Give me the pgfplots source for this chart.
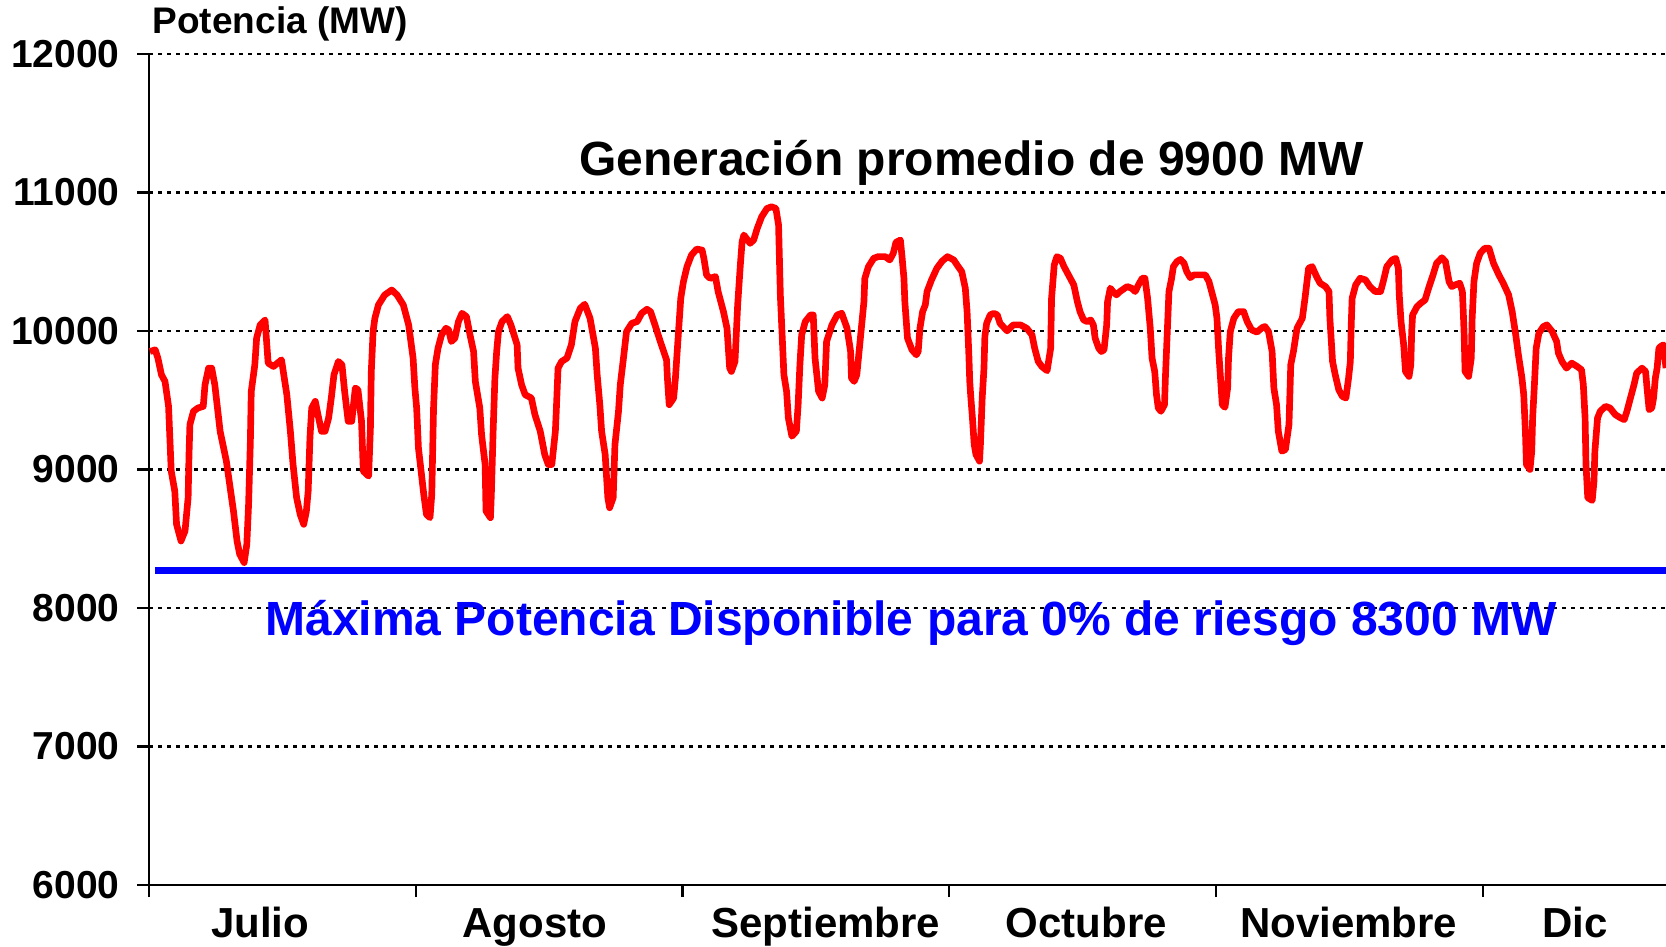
\documentclass[border=0pt]{standalone}
\usepackage{fontspec}
\setmainfont{Liberation Sans}
\usepackage{pgfplots}
\usepackage{pgfplotstable}
\pgfplotsset{compat=1.18}

% daily generation, x = day index from 1 July (30 per tick)
\pgfplotstableread{
x v
0.1 9852
0.7 9864
1.0 9804
1.4 9684
1.8 9636
2.2 9456
2.5 8988
2.9 8844
3.1 8604
3.6 8484
4.05 8556
4.4 8796
4.5 9108
4.6 9324
5.0 9420
5.5 9444
6.1 9456
6.3 9612
6.7 9732
7.05 9732
7.4 9612
8.0 9276
8.7 9060
9.5 8700
9.9 8484
10.2 8388
10.7 8328
11.0 8460
11.2 8748
11.4 9204
11.5 9564
11.9 9756
12.1 9948
12.5 10044
13.05 10080
13.4 9768
14.0 9744
14.9 9792
15.5 9540
15.9 9276
16.2 9036
16.6 8796
17.0 8676
17.4 8604
17.7 8700
17.9 8844
18.1 9228
18.3 9444
18.7 9492
19.0 9396
19.4 9276
19.8 9276
20.2 9372
20.5 9516
20.8 9684
21.3 9780
21.7 9756
22.0 9564
22.4 9348
22.8 9348
23.2 9588
23.5 9576
23.9 9348
24.1 8988
24.7 8952
24.9 9300
25.0 9708
25.2 9996
25.4 10092
25.8 10188
26.5 10260
27.3 10296
27.9 10260
28.6 10188
29.2 10044
29.7 9804
29.9 9588
30.1 9444
30.3 9156
30.9 8820
31.2 8676
31.6 8652
31.8 8820
32.0 9444
32.2 9756
32.5 9876
32.9 9972
33.4 10020
33.7 10008
34.0 9924
34.4 9948
34.8 10068
35.2 10128
35.7 10104
36.1 9972
36.5 9852
36.7 9636
37.2 9444
37.4 9252
37.8 9036
37.9 8700
38.4 8652
38.5 8820
38.7 9276
38.9 9660
39.1 9852
39.3 9996
39.7 10068
40.3 10104
40.7 10044
41.4 9900
41.5 9732
41.9 9612
42.3 9540
43.0 9516
43.4 9396
44.0 9276
44.5 9108
44.9 9036
45.3 9036
45.7 9276
45.8 9420
46.0 9732
46.4 9780
47.0 9804
47.5 9900
47.9 10068
48.5 10164
49.0 10193
49.6 10092
50.2 9876
50.4 9684
50.7 9468
50.9 9276
51.3 9108
51.6 8796
51.8 8724
52.2 8796
52.4 9180
52.8 9420
53.0 9612
53.4 9828
53.7 9996
54.3 10056
54.9 10068
55.4 10128
56.0 10157
56.4 10140
56.9 10044
57.5 9924
58.2 9792
58.3 9660
58.5 9468
59.0 9516
59.2 9660
59.4 9852
59.6 10044
59.8 10236
60.1 10356
60.5 10464
61.0 10548
61.6 10592
62.2 10584
62.4 10525
62.7 10405
63.1 10380
63.7 10393
64.0 10285
64.6 10140
65.0 10020
65.3 9732
65.5 9708
65.9 9780
66.2 10188
66.5 10477
66.7 10645
66.9 10693
67.6 10633
68.0 10657
68.4 10741
68.9 10825
69.5 10885
70.0 10897
70.5 10885
70.8 10765
71.0 10260
71.4 9684
71.7 9564
71.9 9372
72.3 9240
72.8 9276
73.0 9468
73.2 9756
73.4 9972
73.8 10068
74.4 10116
74.7 10116
74.9 9804
75.3 9564
75.7 9516
76.0 9612
76.2 9924
76.8 10044
77.4 10116
77.9 10128
78.5 10020
78.9 9852
79.0 9660
79.3 9636
79.6 9684
80.0 9948
80.4 10212
80.5 10380
80.9 10464
81.5 10525
82.0 10537
82.8 10537
83.3 10513
83.7 10561
84.0 10640
84.5 10657
84.7 10525
84.9 10380
85.0 10212
85.3 9948
85.8 9864
86.3 9828
86.5 9852
86.7 10020
87.0 10140
87.3 10188
87.5 10285
88.0 10369
88.6 10453
89.2 10505
89.8 10537
90.5 10513
91.0 10465
91.4 10429
91.8 10309
92.0 10140
92.2 9828
92.3 9636
92.4 9540
92.6 9372
92.8 9180
93.0 9108
93.4 9060
93.5 9180
93.7 9516
93.9 9732
94.0 9960
94.2 10056
94.6 10116
95.0 10128
95.4 10116
95.7 10056
96.5 10001
97.2 10044
98.0 10044
98.7 10020
99.3 9972
99.6 9876
100.0 9780
100.4 9744
101.0 9713
101.4 9876
101.5 10236
101.8 10477
102.1 10537
102.5 10525
102.9 10465
103.4 10405
104.0 10333
104.4 10212
104.7 10140
105.1 10080
105.5 10068
105.9 10080
106.2 10044
106.4 9948
106.8 9876
107.1 9852
107.4 9864
107.7 10044
107.8 10212
108.1 10309
108.4 10285
108.8 10261
109.2 10285
110.0 10321
110.5 10309
110.9 10285
111.3 10337
111.7 10381
112.0 10381
112.3 10236
112.6 10020
112.8 9804
113.1 9708
113.3 9540
113.5 9444
113.8 9420
114.2 9468
114.3 9660
114.5 9972
114.7 10285
115.0 10381
115.2 10465
115.6 10501
116.0 10517
116.4 10489
116.7 10429
117.1 10385
117.5 10405
118.2 10405
118.8 10405
119.2 10357
119.5 10285
119.9 10188
120.1 10092
120.3 9852
120.5 9660
120.7 9468
121.0 9449
121.3 9588
121.4 9804
121.6 9996
122.0 10092
122.5 10140
123.1 10140
123.5 10068
124.0 10008
124.6 9992
125.2 10025
125.5 10032
125.9 9996
126.3 9852
126.5 9588
126.8 9468
127.0 9276
127.4 9132
127.8 9144
128.2 9324
128.4 9756
128.7 9852
129.1 10020
129.7 10092
130.0 10236
130.4 10453
130.8 10465
131.3 10393
131.7 10345
132.3 10321
132.7 10285
132.8 10092
133.1 9780
133.4 9684
133.8 9576
134.2 9528
134.6 9516
134.9 9660
135.1 9780
135.2 10044
135.3 10236
135.7 10333
136.2 10381
136.8 10369
137.3 10321
137.9 10285
138.5 10285
138.8 10357
139.2 10465
139.8 10513
140.2 10525
140.5 10453
140.6 10261
140.8 10068
141.1 9900
141.3 9708
141.7 9672
141.9 9756
142.0 9996
142.1 10116
142.6 10176
143.0 10200
143.5 10224
143.9 10309
144.4 10405
144.8 10489
145.4 10529
145.8 10501
146.2 10357
146.5 10321
146.9 10333
147.4 10345
147.7 10285
147.8 10140
147.9 9972
148.0 9708
148.4 9672
148.7 9804
148.8 10092
149.0 10357
149.3 10489
149.7 10561
150.2 10597
150.7 10597
151.2 10489
151.8 10405
152.3 10345
152.9 10261
153.3 10140
153.7 9972
154.0 9828
154.4 9660
154.6 9540
154.8 9252
154.9 9036
155.3 9000
155.5 9132
155.6 9372
155.8 9612
156.0 9876
156.3 9984
156.8 10032
157.2 10044
157.8 9996
158.3 9924
158.5 9840
158.9 9780
159.4 9732
160.0 9768
160.6 9744
161.1 9720
161.3 9612
161.5 9372
161.6 9036
161.8 8796
162.3 8777
162.5 8916
162.6 9132
162.9 9372
163.2 9420
163.8 9456
164.3 9444
164.9 9396
165.5 9372
165.9 9360
166.2 9420
166.6 9516
167.0 9612
167.3 9696
167.9 9732
168.3 9708
168.5 9564
168.7 9432
169.0 9444
169.2 9516
169.4 9660
169.6 9732
169.8 9876
170.0 9888
170.3 9900
170.6 9732
}\potencia

\pgfplotstableread{
x v
0.7 8270
170.6 8270
}\riesgo

\begin{document}
\begin{tikzpicture}
\begin{axis}[
  scale only axis,
  width=455.1pt, height=249.3pt,
  xmin=0, xmax=170.6,
  ymin=6000, ymax=12000,
  axis x line*=bottom,
  axis y line*=left,
  axis line style={black, line width=0.7pt},
  clip mode=individual,
  scaled y ticks=false,
  /pgf/number format/assume math mode=true,
  /pgf/number format/1000 sep={},
  ytick={6000,7000,...,12000},
  ymajorgrids,
  major grid style={black, line width=0.75pt, dash pattern=on 1.1pt off 1.6pt},
  tick align=outside,
  major tick length=3.6pt,
  major tick style={black, line width=0.7pt},
  yticklabel style={font=\bfseries\fontsize{11.7}{14}\selectfont, inner sep=0pt, anchor=east, xshift=-5pt},
  xtick={0,30,60,90,120,150},
  xticklabels={,,,,,},
  extra x ticks={12.5,43.4,76.1,105.4,134.9,160.4},
  extra x tick labels={Julio,Agosto,Septiembre,Octubre,Noviembre,Dic},
  extra x tick style={major tick length=0pt,
    xticklabel style={font=\bfseries\fontsize{12.6}{15}\selectfont, anchor=base, yshift=-15.6pt}},
]
\addplot[blue, line width=2.1pt, no markers] table[x=x, y=v] {\riesgo};
\addplot[red, line width=2pt, no markers, line join=round] table[x=x, y=v] {\potencia};
\node[anchor=west, inner sep=0pt, font=\bfseries\fontsize{11.1}{13}\selectfont]
  at (rel axis cs:0,1) [xshift=0.9pt, yshift=8.9pt] {Potencia (MW)};
\node[anchor=base, font=\bfseries\fontsize{14.4}{17}\selectfont]
  at (axis cs:92.5,11124) {Generación promedio de 9900 MW};
\node[anchor=base, text=blue, font=\bfseries\fontsize{14.4}{17}\selectfont]
  at (axis cs:85.7,7800) {Máxima Potencia Disponible para 0\% de riesgo 8300 MW};
\end{axis}
\pgfresetboundingbox
\path (-44.7pt,-18.3pt) rectangle (455.1pt,265.5pt);
\end{tikzpicture}
\end{document}
